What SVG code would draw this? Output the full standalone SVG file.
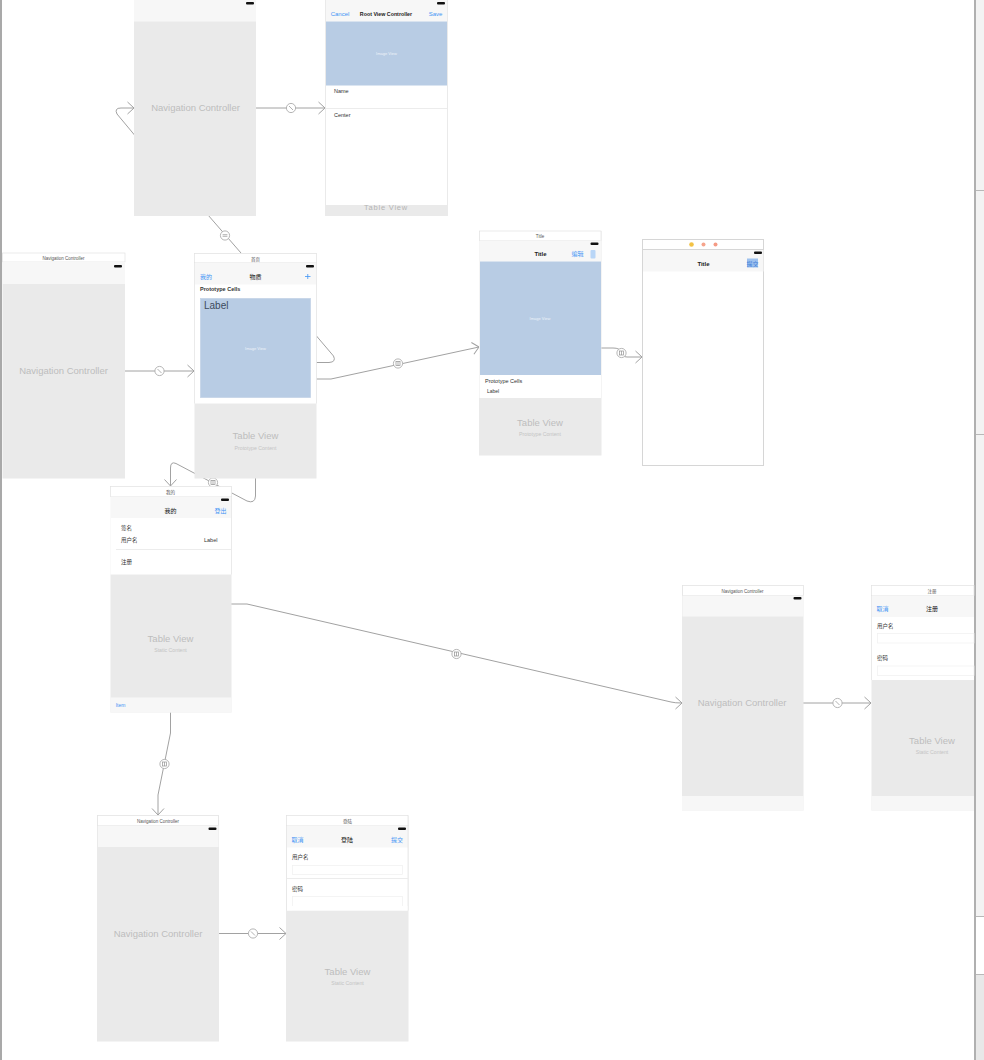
<svg xmlns="http://www.w3.org/2000/svg" width="984" height="1060" viewBox="0 0 984 1060">
<style>
text{font-family:"Liberation Sans","Noto Sans CJK SC",sans-serif;text-anchor:middle;fill:#222}
.bar{fill:#f7f7f7}.gray{fill:#eaeaea}.blue{fill:#b8cce4}
.scene{fill:#fff;stroke:#d6d6d6;stroke-width:1}
.sep{stroke:#ececec;stroke-width:1;fill:none}
.edge{fill:none;stroke:#e2e2e2;stroke-width:.7}
.big{font-size:9.5px;fill:#bdbdbd}
.tv{font-size:9.5px;fill:#bdbdbd}
.sub{font-size:5.2px;fill:#c4c4c4}
.tt{font-size:4.5px;fill:#555}
.nt{font-size:6px;font-weight:bold;fill:#222}
.ncn{font-size:6px;fill:#111}
.btn{font-size:6px;fill:#3f94f5}
.lb{font-size:5.5px;fill:#333;text-anchor:start}
.iv{font-size:4px;fill:#eef3f9}
.cn{fill:none;stroke:#a2a2a2;stroke-width:1}
.ar{fill:none;stroke:#a2a2a2;stroke-width:1}
.bd{fill:#fff;stroke:#adadad;stroke-width:.9}
.gl{fill:none;stroke:#919191;stroke-width:.7}
.fld{fill:#fff;stroke:#f0f0f0;stroke-width:.7}
.head{fill:#fff;stroke:#e2e2e2;stroke-width:.7}
</style>
<defs>
<rect id="bat" width="8" height="2.6" rx="1" fill="#111"/>
<marker id="arr" viewBox="0 0 10 14" refX="9.5" refY="7" markerWidth="10" markerHeight="14" markerUnits="userSpaceOnUse" orient="auto"><path class="ar" d="M3 1 L9.5 7 L3 13"/></marker>
<g id="bSlash"><circle class="bd" r="4.6"/><path class="gl" d="M-2-2 L2 2"/></g>
<g id="bLine"><circle class="bd" r="4.6"/><path class="gl" d="M-2.4-.8H2.4M-2.4 .8H2.4"/></g>
<g id="bSq"><circle class="bd" r="4.6"/><rect class="gl" x="-2" y="-2" width="4" height="4"/><path class="gl" d="M0-2V2"/></g>
</defs>

<rect width="984" height="1060" fill="#fff"/>
<g id="frame">
<rect x="0" y="0" width="2" height="1060" fill="#a9a9a9"/>
<rect x="976" y="0" width="8" height="917" fill="#f3f3f3"/>
<rect x="976" y="975" width="8" height="85" fill="#e8e8e8"/>
<rect x="974" y="0" width="2" height="1060" fill="#b0b0b0"/>
<path d="M976 190.500H984M976 434.500H984M976 916.500H984M976 974.500H984" stroke="#b8b8b8" stroke-width="1" fill="none"/>
</g>

<g id="connectors">
<path class="cn" marker-end="url(#arr)" d="M134.500 135 L117 114 Q114 108 121 108 L134 108"/>
<path class="cn" marker-end="url(#arr)" d="M255 108H325"/>
<path class="cn" d="M208 215L241 253"/>
<path class="cn" marker-end="url(#arr)" d="M125 371H194"/>
<path class="cn" d="M316.500 336L333.500 356Q336.500 362 329 362.500H316"/>
<path class="cn" marker-end="url(#arr)" d="M316 379H331L479 347"/>
<path class="cn" marker-end="url(#arr)" d="M601 348H613Q620 348 621 352Q622 357 627 357H642"/>
<path class="cn" marker-end="url(#arr)" d="M255.500 478V496Q255 504 247 501L176 463.500Q170.500 461 170.500 468V486"/>
<path class="cn" marker-end="url(#arr)" d="M231 604H247L671 702Q675 703 682 703"/>
<path class="cn" marker-end="url(#arr)" d="M170.500 712V733L158 795V815"/>
<path class="cn" marker-end="url(#arr)" d="M803 703H871"/>
<path class="cn" marker-end="url(#arr)" d="M219 933.500H286"/>
<use href="#bSlash" x="291" y="108"/>
<use href="#bLine" x="225" y="235.500"/>
<use href="#bSlash" x="159.500" y="371"/>
<use href="#bSq" x="398" y="363.500"/>
<use href="#bSq" x="621.500" y="353"/>
<use href="#bSq" x="213" y="482.500"/>
<use href="#bSq" x="456.500" y="654"/>
<use href="#bSq" x="164.500" y="764"/>
<use href="#bSlash" x="837.500" y="703"/>
<use href="#bSlash" x="253" y="933.500"/>
</g>

<g id="nav-top">
<rect class="gray" x="134" y="0" width="122" height="216"/>
<rect class="bar" x="134" y="0" width="122" height="21.500"/>
<use href="#bat" x="246" y="2"/>
<text class="big" x="195.500" y="111">Navigation Controller</text>
</g>

<g id="root-view">
<rect x="325" y="0" width="123" height="216" class="gray"/>
<rect x="326" y="0" width="121" height="205" fill="#fff"/>
<rect class="bar" x="326" y="0" width="121" height="21.500"/>
<rect class="blue" x="326" y="21.500" width="121" height="64"/>
<use href="#bat" x="437" y="2"/>
<text class="btn" x="340" y="16">Cancel</text>
<text class="nt" x="386" y="16" style="font-size:5.300px">Root View Controller</text>
<text class="btn" x="435.500" y="16">Save</text>
<text class="iv" x="386.500" y="55">Image View</text>
<text class="lb" x="334" y="93">Name</text>
<path class="sep" d="M326 108.500H447"/>
<text class="lb" x="334" y="116.500">Center</text>
<text class="sub" x="386" y="210" style="font-size:7.500px;letter-spacing:.8px;fill:#b5b5b5">Table View</text>
</g>

<g id="nav-left">
<rect class="gray" x="2.500" y="253" width="122.500" height="225.500"/>
<rect class="head" x="2.500" y="253" width="122.500" height="9"/>
<rect class="bar" x="2.500" y="262" width="122.500" height="22"/>
<use href="#bat" x="114" y="265"/>
<text class="tt" x="63.500" y="260">Navigation Controller</text>
<text class="big" x="63.500" y="374">Navigation Controller</text>
</g>

<g id="home">
<rect class="gray" x="194.500" y="253" width="122" height="225.500"/>
<rect x="194.500" y="253.500" width="122" height="150" fill="#fff"/>
<rect class="head" x="194.500" y="253.500" width="122" height="9"/>
<rect class="bar" x="195" y="262.500" width="121" height="22"/>
<path class="edge" d="M194.500 262V403.500M316.500 262V403.500"/>
<use href="#bat" x="306" y="265"/>
<text class="tt" x="255.500" y="260.500">首页</text>
<text class="btn" x="206" y="279">我的</text>
<text class="ncn" x="255.500" y="279">物质</text>
<path d="M305 276.500H310.500M307.750 274V279" stroke="#3f94f5" stroke-width=".8" fill="none"/>
<text class="lb" x="200" y="290.500" style="font-weight:bold">Prototype Cells</text>
<rect class="blue" x="200.500" y="298.500" width="110" height="99" stroke="#c5d4e6" stroke-width=".8"/>
<text x="204" y="309" style="font-size:10px;text-anchor:start;fill:#3c4a5c">Label</text>
<text class="iv" x="255.500" y="349.500">Image View</text>
<text class="tv" x="255.500" y="439">Table View</text>
<text class="sub" x="255.500" y="449.500">Prototype Content</text>
</g>

<g id="detail">
<rect class="gray" x="479" y="231" width="122.500" height="224.500"/>
<rect x="479.500" y="231" width="121.500" height="167" fill="#fff"/>
<rect class="head" x="479.500" y="231" width="121.500" height="9.500"/>
<rect class="bar" x="480" y="240.500" width="121" height="21"/>
<rect class="blue" x="480" y="261.500" width="121" height="113.500"/>
<use href="#bat" x="590.500" y="242.500"/>
<text class="tt" x="540" y="237.500">Title</text>
<text class="nt" x="540.500" y="256">Title</text>
<text class="btn" x="577.500" y="256">编辑</text>
<rect x="590.500" y="250" width="5" height="8.500" rx="1" fill="#b9d6f7"/>
<text class="iv" x="540" y="319.500">Image View</text>
<text class="lb" x="485" y="382.500">Prototype Cells</text>
<text class="lb" x="487" y="392.500" style="font-size:5px">Label</text>
<text class="tv" x="540" y="426">Table View</text>
<text class="sub" x="540" y="436">Prototype Content</text>
</g>

<g id="web-view">
<rect class="scene" x="642.500" y="239.500" width="121" height="226"/>
<path d="M643 249.500H763" stroke="#d6d6d6" fill="none"/>
<rect class="bar" x="643" y="250" width="120.500" height="21.500"/>
<circle cx="691.500" cy="244.500" r="2.300" fill="#f3c244"/>
<circle cx="703.500" cy="244.500" r="2" fill="#f6a48c"/>
<circle cx="715.500" cy="244.500" r="2" fill="#f59a84"/>
<use href="#bat" x="754" y="251.500"/>
<text class="nt" x="703.500" y="265.500">Title</text>
<rect x="747" y="258.500" width="11" height="9" fill="#9dc1ee"/>
<text class="btn" x="752.500" y="265.500" style="fill:#3f7fd8">提交</text>
</g>

<g id="mine">
<rect class="gray" x="110.500" y="486.500" width="121" height="226"/>
<rect x="110.500" y="486.500" width="121" height="88" fill="#fff"/>
<rect class="head" x="110.500" y="486.500" width="121" height="10"/>
<rect class="bar" x="111" y="496.500" width="120" height="21.500"/>
<path class="edge" d="M231.500 496V574.500"/>
<rect class="bar" x="110.500" y="697.500" width="121" height="15"/>
<use href="#bat" x="221" y="498.500"/>
<text class="tt" x="170.500" y="493.500">我的</text>
<text class="ncn" x="170.500" y="512.500">我的</text>
<text class="btn" x="220.500" y="512.500">登出</text>
<text class="lb" x="121" y="530">签名</text>
<text class="lb" x="121" y="541.500">用户名</text>
<text class="lb" x="204" y="541.500">Label</text>
<path class="sep" d="M116 549.500H231"/>
<text class="lb" x="121" y="563.500">注册</text>
<text class="tv" x="170.500" y="641.500">Table View</text>
<text class="sub" x="170.500" y="652">Static Content</text>
<text class="btn" x="120.500" y="707" style="font-size:5px">Item</text>
</g>

<g id="nav-register">
<rect class="gray" x="682" y="585.500" width="121.500" height="225"/>
<rect class="head" x="682.500" y="585.500" width="121" height="10"/>
<rect class="bar" x="682.500" y="595.500" width="121" height="21"/>
<rect class="bar" x="682" y="796" width="121.500" height="14.500"/>
<use href="#bat" x="793.500" y="597"/>
<text class="tt" x="742.500" y="592.500">Navigation Controller</text>
<text class="big" x="742" y="706">Navigation Controller</text>
</g>

<g id="register">
<rect class="gray" x="871.500" y="585.500" width="102.500" height="225"/>
<rect x="871.500" y="585.500" width="102.500" height="94.500" fill="#fff"/>
<rect class="head" x="871.500" y="585.500" width="102.500" height="10"/>
<rect class="bar" x="872" y="595.500" width="102" height="21.500"/>
<path class="edge" d="M871.500 595V680"/>
<rect class="bar" x="871.500" y="796" width="102.500" height="14.500"/>
<text class="tt" x="932" y="592.500">注册</text>
<text class="btn" x="882.500" y="611">取消</text>
<text class="ncn" x="932" y="611">注册</text>
<text class="lb" x="877" y="628">用户名</text>
<rect class="fld" x="877.500" y="633.500" width="96.500" height="9.500"/>
<text class="lb" x="877" y="660">密码</text>
<rect class="fld" x="877.500" y="666" width="96.500" height="9.500"/>
<text class="tv" x="932" y="743.500">Table View</text>
<text class="sub" x="932" y="754">Static Content</text>
</g>

<g id="nav-login">
<rect class="gray" x="97" y="815.500" width="122" height="226"/>
<rect class="head" x="97.500" y="815.500" width="121" height="10"/>
<rect class="bar" x="98" y="825.500" width="120.500" height="21.500"/>
<use href="#bat" x="208.500" y="827.500"/>
<text class="tt" x="158" y="822.500">Navigation Controller</text>
<text class="big" x="158" y="937">Navigation Controller</text>
</g>

<g id="login">
<rect class="gray" x="286" y="815.500" width="122.500" height="226"/>
<rect x="286.500" y="815.500" width="121.500" height="95" fill="#fff"/>
<rect class="head" x="286.500" y="815.500" width="121.500" height="10"/>
<rect class="bar" x="287" y="825.500" width="121" height="22"/>
<path class="edge" d="M286.500 825V910.500M408 825V910.500"/>
<use href="#bat" x="398" y="827.500"/>
<text class="tt" x="347.500" y="822.500">登陆</text>
<text class="btn" x="297.500" y="841.500">取消</text>
<text class="ncn" x="347" y="841.500">登陆</text>
<text class="btn" x="397" y="841.500">提交</text>
<text class="lb" x="292" y="858.500">用户名</text>
<rect class="fld" x="292.500" y="865.500" width="110" height="9"/>
<path class="sep" d="M287 878.500H408"/>
<text class="lb" x="292" y="890.500">密码</text>
<rect class="fld" x="292.500" y="896.500" width="110" height="14"/>
<rect x="287" y="906" width="120.500" height="4.500" fill="#fff"/>
<text class="tv" x="347.500" y="974.500">Table View</text>
<text class="sub" x="347.500" y="985">Static Content</text>
</g>
</svg>
